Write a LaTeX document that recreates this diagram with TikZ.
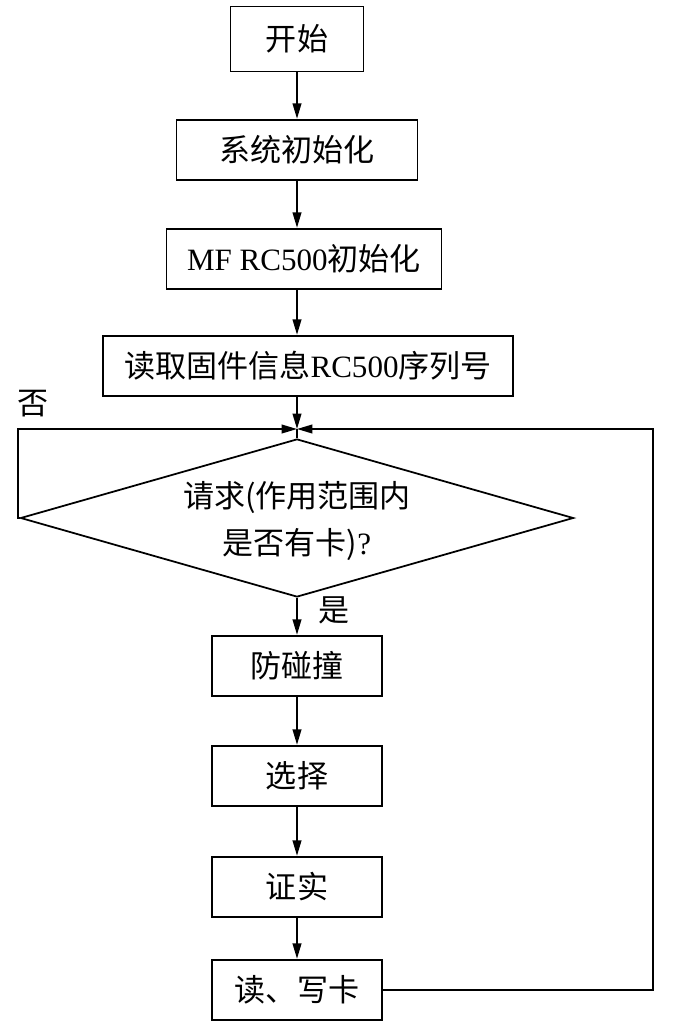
\documentclass[tikz,border=0pt]{standalone}
\usepackage{fontspec}
\setmainfont{Liberation Serif}
\newfontfamily\cjk{Noto Sans CJK SC}
\usetikzlibrary{arrows.meta,shapes.geometric}

\begin{document}
\begin{tikzpicture}[x=0.03cm,y=-0.03cm,line width=1.5pt,>={Triangle[length=4.6mm,width=2.6mm]}]
\tikzstyle{every node}=[font=\cjk\fontsize{26.5}{40}\selectfont,inner sep=0pt]
\tikzstyle{box}=[draw,rectangle,minimum height=1.82cm]
\tikzstyle{small}=[box,minimum width=5.1cm]
\tikzstyle{flow}=[->]
\useasboundingbox (0,0) rectangle (673,1036);

\node[box,minimum width=3.99cm,minimum height=1.95cm] (start) at (297,39) {开始};
\node[box,minimum width=7.23cm] (init) at (297,150) {系统初始化};
\node[box,minimum width=8.25cm] (mf) at (304,259) {{\rmfamily MF RC500}初始化};
\node[box,minimum width=12.3cm] (read) at (308,366) {读取固件信息{\rmfamily RC500}序列号};
\coordinate (merge) at (297,429);
\node[draw,diamond,aspect=3.5,minimum width=16.59cm,minimum height=4.74cm] (ask) at (297,518) {};
\node[align=center] (asktext) at (297,521) {请求(作用范围内\\是否有卡){\rmfamily ?}};
\node[small] (anti) at (297,666) {防碰撞};
\node[small] (sel) at (297,776) {选择};
\node[small] (ver) at (297,887) {证实};
\node[small] (rw) at (297,990) {读、写卡};
\coordinate (lx) at (18,0);
\coordinate (rx) at (653,0);

\draw[flow] (start) -- (init);
\draw[flow] (init) -- (mf.north -| init);
\draw[flow] (mf.south -| init) -- (read.north -| init);
\draw[flow] (read.south -| init) -- (merge);
\draw (merge) -- (ask.north);
\draw[flow] (ask.west) -- (ask.west -| lx) |- (merge);
\draw[flow] (rw.east) -- (rw.east -| rx) |- (merge);
\draw[flow] (ask.south) -- (anti);
\draw[flow] (anti) -- (sel);
\draw[flow] (sel) -- (ver);
\draw[flow] (ver) -- (rw);

\node (no) at (33,404) {否};
\node (yes) at (334,610) {是};
\end{tikzpicture}
\end{document}
